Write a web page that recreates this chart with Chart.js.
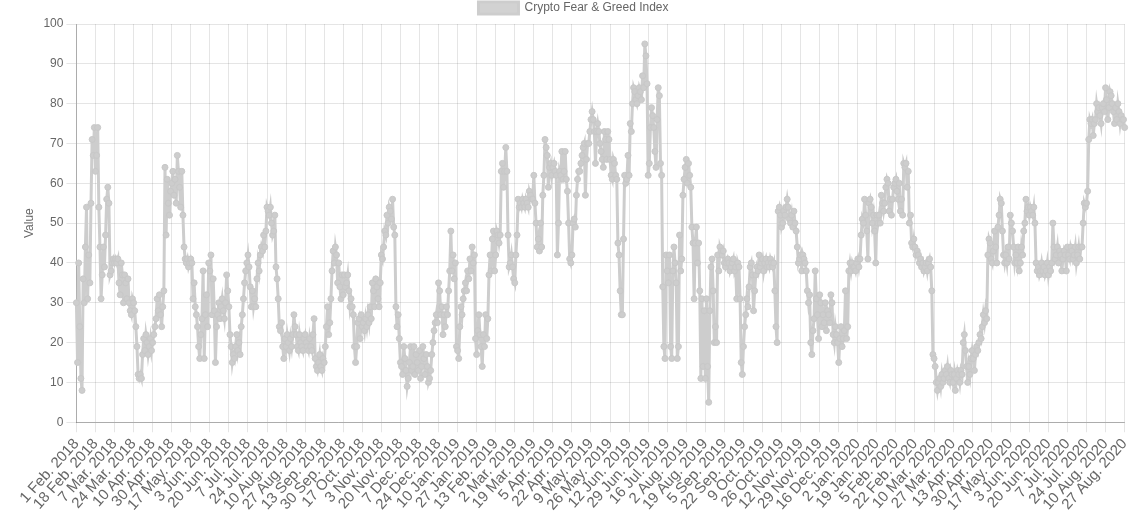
<!DOCTYPE html>
<html>
<head>
<meta charset="utf-8">
<script src="https://cdn.jsdelivr.net/npm/chart.js@4/dist/chart.umd.min.js"></script>
<style>
html,body{margin:0;padding:0;background:#fff;overflow:hidden;}
#wrap{position:relative;width:1141px;height:526px;margin-top:-8px;}
</style>
</head>
<body>
<div id="wrap"><canvas id="c"></canvas></div>
<script>
const seriesName = 'Crypto Fear & Greed Index';
const yAxisTitle = 'Value';
const firstDay = '2018-02-01';
const lastDay = '2020-08-27';
const missingDates = ['2018-04-14', '2018-04-15', '2018-04-16'];
const monthAbbr = ['Jan.', 'Feb.', 'Mar.', 'Apr.', 'May.', 'Jun.', 'Jul.', 'Aug.', 'Sep.', 'Oct.', 'Nov.', 'Dec.'];
const yTicks = [0, 10, 20, 30, 40, 50, 60, 70, 80, 90, 100];
const labelEvery = 17;

const fg2018 = [
  30,15,40,24,11,8,36,30,44,54,31,42,35,55,71,67,74,
  63,67,74,54,44,31,37,44,39,47,56,59,55,37,38,40,41,
  40,41,40,41,35,32,40,37,30,37,35,31,36,30,28,27,31,
  30,28,24,19,12,11,12,11,17,21,18,22,20,17,19,21,18,
  20,22,24,26,31,28,32,27,24,29,33,64,47,61,55,52,58,
  60,63,57,61,55,67,63,59,54,63,52,44,41,40,41,39,40,
  41,40,31,35,29,27,24,19,16,22,26,38,16,27,32,24,40,
  38,42,27,36,28,15,24,27,30,26,29,31,28,26,30,37,33,
  29,22,19,15,17,16,19,22,18,20,17,24,27,31,35,38,40,
  42,39,34,29,33,29,31,29,36,40,38,42,44,43,47,44,48,
  54,53,52,54,50,47,48,52,39,36,31,24,23,25,19,16,21,
  19,22,20,18,21,19,22,27,24,22,19,18,22,20,19,18,21,
  22,20,19,18,21,19,18,22,26,16,14,13,15,17,14,13,16,
  15,19,24,29,22,25,31,38,43,40,44,42,35,40,34,31,37,
  32,37,34,35,37,33,29,31,29,27,19,15,19,25,26,21,27,
  24,25,23,26,24,27,25,29,26,35,33,29,36,34,31,29,35,
  42,41,44,48,47,52,50,54,53,51,56,49,47,29,24,27,21,
  15,14,12,19,16,13,9,11,15,19,13,14,19,12,17,15,
  13,18,11,14,19,16,12,17,14,10,11,13,17,20,23,25,27,
  25,35,33,27,29,22,27,24,29
];

const fg2019 = [
  27,33,38,48,38,42,36,40,
  19,18,16,24,29,27,31,33,35,33,38,36,41,38,44,40,42,
  21,17,23,27,22,19,14,22,19,27,21,26,37,42,38,46,48,
  38,42,48,47,45,47,63,65,59,63,69,63,47,39,40,42,39,
  36,35,42,47,56,54,55,54,56,55,54,56,55,54,58,57,56,
  56,62,55,50,44,46,43,50,44,57,62,71,69,67,59,64,65,
  62,64,65,63,62,42,50,63,62,68,61,63,68,61,58,50,41,
  40,42,50,51,49,57,61,63,63,65,67,69,70,57,66,70,
  70,73,76,78,76,73,65,73,75,73,70,68,66,64,73,71,66,
  73,71,66,62,61,66,65,62,61,45,42,33,27,27,46,62,60,
  61,67,62,75,73,80,84,83,81,80,82,84,83,81,87,84,95,
  92,85,62,65,74,79,77,74,68,64,76,84,82,65,62,34,19,
  16,42,38,35,42,19,16,38,44,40,35,16,19,47,38,41,57,
  61,64,66,60,65,62,59,49,45,31,45,49,40,45,33,11,31,
  14,28,11,31,14,5,28,39,41,33,20,24,20,42,38,44,43,
  42,43,40,39,40,41,40,38,39,40,41,38,39,31,40,39,31,
  15,12,19,24,27,31,29,34,39,40,37,28,33,37,39,38,
  42,39,40,41,38,40,41,39,40,39,41,40,39,40,33,24,20,
  53,54,52,49,50,53,52,54,56,54,51,50,52,49,53,50,48,
  44,40,41,42,38,42,41,40,38,33,30,32,20,17,23,26,38,
  31,27,21,32,30,24,27,25,30,23,28,27,25,32,30,22,20,
  24,22,20,15,21,24,19,21,23,33,21,24,38,40,38,40,39,
  39,38
];

const fg2020 = [
  40,41,39,41,47,51,50,56,52,48,41,55,56,54,50,
  52,48,40,52,50,52,50,57,55,53,55,59,61,60,53,56,52,
  56,59,60,61,58,56,60,53,56,52,65,64,65,59,63,50,52,
  45,44,46,44,42,43,42,40,41,39,40,38,39,40,38,40,41,
  39,33,17,16,14,10,8,10,11,9,12,10,11,13,12,14,
  11,10,13,12,10,12,8,11,13,12,10,13,12,20,22,18,14,
  10,14,12,16,18,16,13,17,19,18,20,22,21,24,27,25,28,
  26,42,46,45,41,40,43,48,44,40,49,52,56,55,48,42,40,
  42,40,44,41,52,50,48,44,40,42,40,44,38,40,44,42,48,
  50,56,53,54,52,54,53,52,54,50,40,38,39,37,38,40,38,
  39,37,38,40,37,39,38,40,50,44,41,42,44,40,43,42,38,
  41,43,42,38,44,42,41,44,43,41,42,44,40,42,44,41,44,
  44,50,55,54,55,58,71,76,75,76,72,75,76,80,78,79,77,
  75,79,80,78,84,81,76,79,83,82,80,78,75,79,76,80,
  78,75,77,76,76,74
];

// build day labels from the date range
const labels = [];
(function () {
  const d = new Date(firstDay + 'T00:00:00Z');
  const end = new Date(lastDay + 'T00:00:00Z').getTime();
  while (d.getTime() <= end) {
    const iso = d.toISOString().slice(0, 10);
    if (!missingDates.includes(iso)) {
      labels.push(d.getUTCDate() + ' ' + monthAbbr[d.getUTCMonth()] + ' ' + d.getUTCFullYear());
    }
    d.setUTCDate(d.getUTCDate() + 1);
  }
})();

const values = fg2018.concat(fg2019, fg2020);

const FONT = "'Helvetica Neue', Helvetica, Arial, 'Liberation Sans', sans-serif";
Chart.defaults.font.family = FONT;
Chart.defaults.font.size = 12;
Chart.defaults.color = '#666';

new Chart(document.getElementById('c'), {
  type: 'line',
  data: {
    labels: labels,
    datasets: [{
      label: seriesName,
      data: values,
      borderColor: 'rgb(205,205,205)',
      backgroundColor: 'rgb(210,210,210)',
      pointBackgroundColor: 'rgb(205,205,205)',
      pointBorderColor: 'rgb(200,200,200)',
      borderWidth: 3,
      pointRadius: 3,
      pointBorderWidth: 1,
      tension: 0,
      fill: false
    }]
  },
  options: {
    responsive: true,
    maintainAspectRatio: false,
    animation: false,
    layout: { padding: { left: 18, right: 12, bottom: 1 } },
    plugins: {
      legend: {
        display: true,
        position: 'top',
        labels: { boxWidth: 40, boxHeight: 12, padding: 10, color: '#666', font: { size: 12 } }
      },
      tooltip: { enabled: false }
    },
    scales: {
      x: {
        grid: { color: 'rgba(0,0,0,0.1)', tickLength: 10 },
        border: { color: 'rgba(0,0,0,0.25)' },
        ticks: {
          autoSkip: false,
          minRotation: 48,
          maxRotation: 48,
          color: '#666',
          font: { size: 15 },
          callback: function (val, idx) { return idx % labelEvery === 0 ? labels[idx] : null; }
        }
      },
      y: {
        min: yTicks[0],
        max: yTicks[yTicks.length - 1],
        grid: { color: 'rgba(0,0,0,0.1)', tickLength: 10 },
        border: { color: 'rgba(0,0,0,0.25)' },
        ticks: { stepSize: 10, color: '#666' },
        title: { display: true, text: yAxisTitle, color: '#666', font: { size: 12 } }
      }
    }
  }
});
</script>
</body>
</html>
